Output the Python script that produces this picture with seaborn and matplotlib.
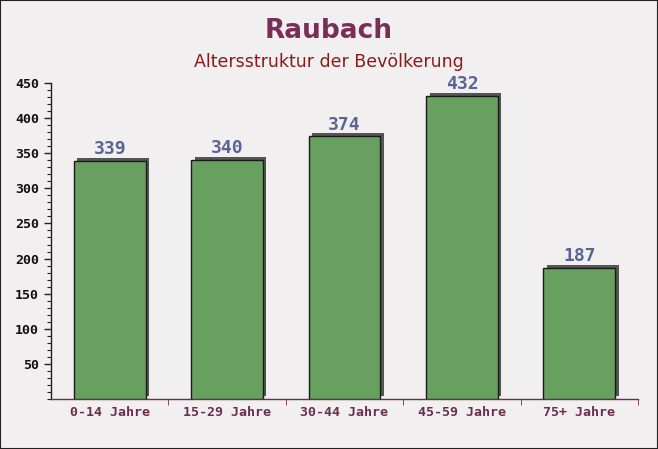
import matplotlib
matplotlib.use("Agg")
import matplotlib.pyplot as plt
import matplotlib.transforms as mtransforms
from matplotlib.patches import Rectangle
from matplotlib.ticker import MultipleLocator
import seaborn as sns
import pandas as pd

categories = ["0-14 Jahre", "15-29 Jahre", "30-44 Jahre", "45-59 Jahre", "75+ Jahre"]
values = [339, 340, 374, 432, 187]
title = "Raubach"
subtitle = "Altersstruktur der Bevölkerung"

df = pd.DataFrame({"cat": categories, "val": values})

sns.set_style("white")
plt.rcParams['font.family'] = ['DejaVu Sans']

bg = "#f2eff0"
fig = plt.figure(figsize=(6.58, 4.49), dpi=100, facecolor=bg)
ax = fig.add_axes([51/658, 50/449, 587/658, 316/449])
ax.set_facecolor(bg)

sns.barplot(data=df, x="cat", y="val", ax=ax, color="#68a060", width=0.61,
            saturation=1, edgecolor="#1a1a1a", linewidth=1.0, zorder=3)

# shadows
off = mtransforms.offset_copy(ax.transData, fig=fig, x=3.5, y=3.0, units="dots")
for p in list(ax.containers[0].patches):
    sh = Rectangle((p.get_x(), p.get_y()), p.get_width(), p.get_height(), transform=off,
                   facecolor="#555555", edgecolor="none", zorder=2)
    ax.add_patch(sh)

for c in ax.containers:
    ax.bar_label(c, labels=[str(v) for v in values], padding=2,
                 fontsize=13, fontweight="bold", color="#5a6494",
                 family="DejaVu Sans Mono")

ax.set_ylim(0, 450)
ax.set_xlim(-0.5, len(categories) - 0.5)
ax.yaxis.set_major_locator(MultipleLocator(50))
ax.yaxis.set_minor_locator(MultipleLocator(10))
ax.set_yticks([50, 100, 150, 200, 250, 300, 350, 400, 450])
ax.tick_params(axis="y", which="major", length=5, width=1, color="#222222",
               labelsize=9.5, labelcolor="#111111", direction="out", left=True)
ax.tick_params(axis="y", which="minor", length=3, width=0.8, color="#222222", left=True)
ax.set_xticks(range(len(categories)))
ax.set_xticklabels(categories)
ax.tick_params(axis="x", which="major", length=0, labelsize=9.5, labelcolor="#6b2d4e", pad=5)
ax.set_xticks([i + 0.5 for i in range(len(categories))], minor=True)
ax.tick_params(axis="x", which="minor", length=4, color="#6b2d4e", bottom=True)
for lab in ax.get_xticklabels() + ax.get_yticklabels():
    lab.set_family("DejaVu Sans Mono")
    lab.set_fontweight("bold")
ax.set_xlabel("")
ax.set_ylabel("")
for s in ["top", "right"]:
    ax.spines[s].set_visible(False)
ax.spines["left"].set_color("#222222")
ax.spines["bottom"].set_color("#6b2d4e")
ax.spines["left"].set_linewidth(1)
ax.spines["bottom"].set_linewidth(1)

fig.text(0.5, 0.932, title, ha="center", va="center", fontsize=19,
         fontweight="bold", color="#7b2d5a")
fig.text(0.5, 0.862, subtitle, ha="center", va="center", fontsize=12.5,
         color="#8b1a1a")

border = Rectangle((0, 0), 1, 1, transform=fig.transFigure, fill=False,
                   edgecolor="#222222", linewidth=1.5)
fig.patches.append(border)

fig.savefig("out.png", dpi=100, facecolor=bg)
